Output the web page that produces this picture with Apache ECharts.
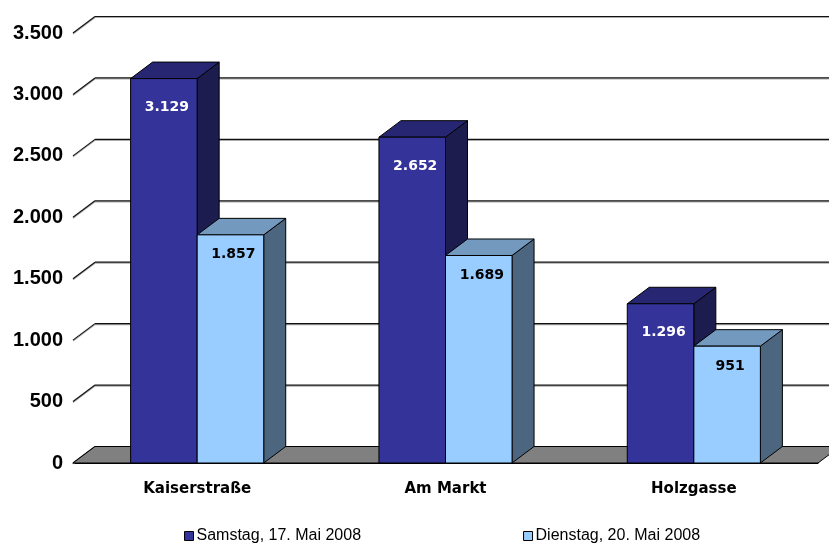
<!DOCTYPE html>
<html>
	<head>
		<meta charset="UTF-8">
		<title>Passanten</title>
		<script type="text/javascript" src="https://cdn.jsdelivr.net/npm/echarts@6/dist/echarts.min.js"></script>
		<style>
			html,body{margin:0;padding:0;background:#fff;}
		</style>
	</head>
	<body>
		<div id="chart" style="width:829px;height:544px;"></div>
	</body>
</html>
<script type="text/javascript">
// Daten
var categories = ['Kaiserstraße', 'Am Markt', 'Holzgasse'];
var samstag = [3129, 2652, 1296];
var dienstag = [1857, 1689, 951];
var yTicks = [0, 500, 1000, 1500, 2000, 2500, 3000, 3500];
var seriesNames = ['Samstag, 17. Mai 2008', 'Dienstag, 20. Mai 2008'];

// Tiefe der 3D-Darstellung
var DX = 22, DY = -16.5;

function fmt(v) {
	return String(v).replace(/\B(?=(\d{3})+(?!\d))/g, '.');
}

// Farben: Front, Oberseite, Seite
var colors = [
	{front: '#333399', top: '#262673', side: '#1c1c4e', label: '#ffffff', lblDy: 29},
	{front: '#99ccff', top: '#7399bf', side: '#4d6680', label: '#000000', lblDy: 20}
];

function barRenderer(k) {
	return function (params, api) {
		var idx = api.value(0);
		var v = api.value(1);
		var p0 = api.coord([idx, 0]);
		var pv = api.coord([idx, v]);
		var bandW = api.size([1, 0])[0];
		var w = bandW * 0.268;
		var x0 = k === 0 ? p0[0] - w : p0[0];
		var x1 = x0 + w;
		var y0 = p0[1], yv = pv[1];
		var c = colors[k];
		var st = {stroke: '#000', lineWidth: 1};
		return {
			type: 'group',
			children: [
				{type: 'polygon', shape: {points: [[x1, yv], [x1 + DX, yv + DY], [x1 + DX, y0 + DY], [x1, y0]]},
					style: Object.assign({fill: c.side}, st)},
				{type: 'polygon', shape: {points: [[x0, yv], [x0 + DX, yv + DY], [x1 + DX, yv + DY], [x1, yv]]},
					style: Object.assign({fill: c.top}, st)},
				{type: 'rect', shape: {x: x0, y: yv, width: w, height: y0 - yv},
					style: Object.assign({fill: c.front}, st)},
				{type: 'text', x: (x0 + x1) / 2 + 3, y: yv + c.lblDy,
					style: {text: fmt(v), fill: c.label, font: 'bold 14px "DejaVu Sans"', align: 'center', verticalAlign: 'middle'}}
			]
		};
	};
}

var chart = echarts.init(document.getElementById('chart'));

var option = {
	animation: false,
	grid: {left: 73, right: 11, top: 33, bottom: 81},
	legend: {
		data: seriesNames,
		left: 179,
		bottom: -5,
		icon: 'rect',
		itemWidth: 9,
		itemHeight: 9,
		itemGap: 162,
		itemStyle: {borderColor: '#000', borderWidth: 1},
		textStyle: {color: '#000', fontSize: 16, fontFamily: '"Liberation Sans"', padding: [0, 0, 0, -2]}
	},
	xAxis: {
		type: 'category',
		data: categories,
		axisLine: {lineStyle: {color: '#000', width: 1}},
		axisTick: {length: 6, lineStyle: {color: '#000'}},
		axisLabel: {margin: 19, color: '#000', fontSize: 15, fontWeight: 'bold', fontFamily: '"DejaVu Sans"'}
	},
	yAxis: {
		type: 'value',
		min: 0,
		max: 3500,
		interval: 500,
		axisLine: {show: false},
		axisTick: {show: false},
		splitLine: {show: false},
		axisLabel: {margin: 10, color: '#000', fontSize: 20, fontWeight: 'bold', fontFamily: '"Liberation Sans"', formatter: fmt}
	},
	series: [
		{
			// Gitternetz: Seitenwand + Rueckwand
			type: 'custom',
			silent: true,
			data: yTicks.map(function (v) { return [0, v]; }),
			renderItem: function (params, api) {
				var p = api.coord([0, api.value(1)]);
				var bandW = api.size([1, 0])[0];
				var xl = p[0] - bandW / 2;
				var ls = {stroke: '#111', lineWidth: 1.2, shadowColor: '#aaa', shadowOffsetY: 1};
				return {
					type: 'group',
					children: [
						{type: 'line', shape: {x1: xl, y1: p[1], x2: xl + DX, y2: p[1] + DY}, style: ls},
						{type: 'line', shape: {x1: xl + DX, y1: p[1] + DY, x2: 900, y2: p[1] + DY}, style: ls}
					]
				};
			}
		},
		{
			// Boden
			type: 'custom',
			silent: true,
			data: [[0, 0]],
			renderItem: function (params, api) {
				var p = api.coord([0, 0]);
				var bandW = api.size([1, 0])[0];
				var xl = p[0] - bandW / 2;
				var xr = xl + bandW * categories.length;
				return {
					type: 'polygon',
					shape: {points: [[xl, p[1]], [xl + DX, p[1] + DY], [xr + DX, p[1] + DY], [xr, p[1]]]},
					style: {fill: '#808080', stroke: '#000', lineWidth: 1}
				};
			}
		},
		{
			name: seriesNames[0],
			type: 'custom',
			itemStyle: {color: colors[0].front},
			data: samstag.map(function (v, i) { return [i, v]; }),
			renderItem: barRenderer(0)
		},
		{
			name: seriesNames[1],
			type: 'custom',
			itemStyle: {color: colors[1].front},
			data: dienstag.map(function (v, i) { return [i, v]; }),
			renderItem: barRenderer(1)
		}
	]
};
chart.setOption(option);
</script>
